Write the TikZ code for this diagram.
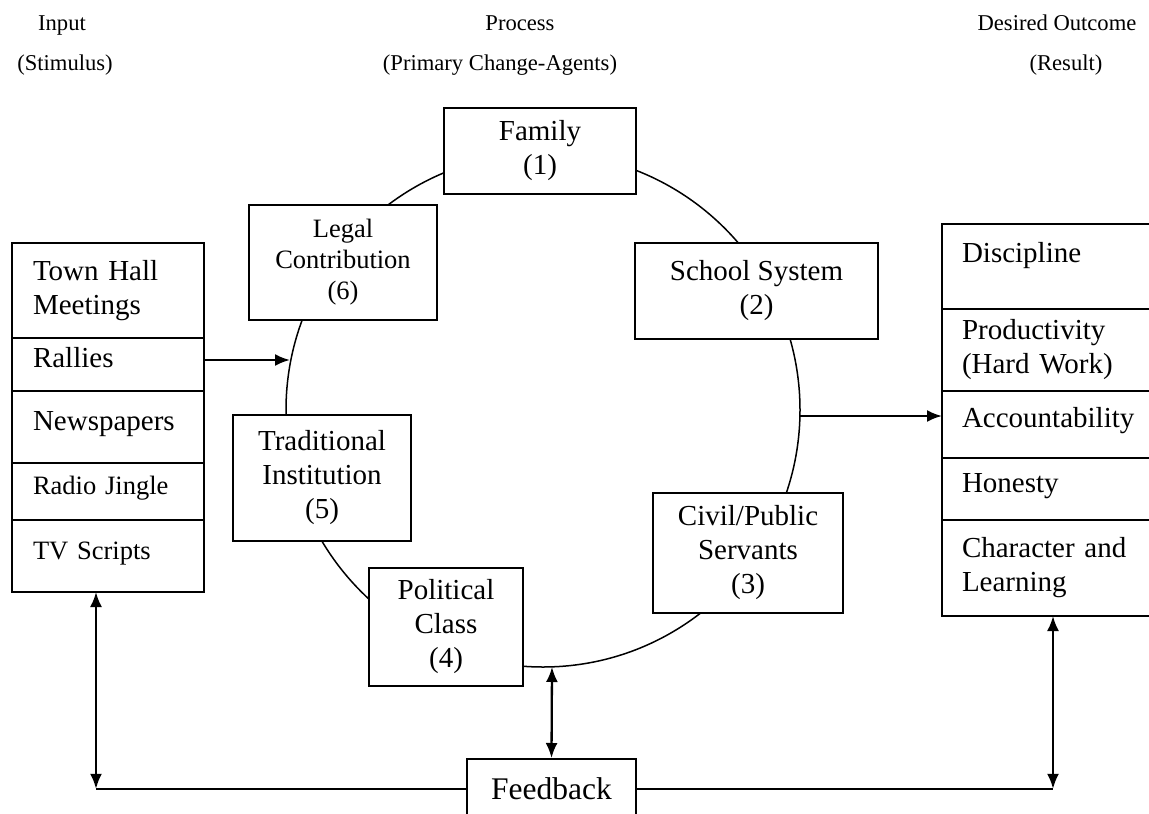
\documentclass[tikz,border=0pt]{standalone}
\usepackage{fontspec}
\setmainfont{Liberation Serif}
\usetikzlibrary{arrows.meta,positioning}

\begin{document}
\begin{tikzpicture}[x=1pt,y=-1pt,>={Latex[length=15pt,width=12pt]},
		agent/.style={draw,fill=white,line width=1.7pt,align=center,inner sep=0pt,font=\fontsize{29}{34}\selectfont},
		cell/.style={draw,line width=1.7pt,outer sep=0pt,align=left,inner xsep=21pt,inner ysep=0pt,text width=150pt,font=\fontsize{29}{34}\selectfont},
		ocell/.style={cell,inner xsep=20pt,text width=178pt},
		oneline/.style={text height=20pt,text depth=14pt},
		small/.style={font=\fontsize{26.5}{31}\selectfont},
		head/.style={anchor=base,font=\fontsize{22.6}{26}\selectfont},
		arr/.style={line width=2.3pt}]
		\useasboundingbox (0,0) rectangle (1149,814);
		\clip (0,0) rectangle (1149,814);
		%Headers
		\node [head] (hin) at (62,30) {Input};
		\node [head] (hins) at (65,70) {(Stimulus)};
		\node [head] (hpr) at (520,30) {Process};
		\node [head] (hprs) at (500,70) {(Primary Change-Agents)};
		\node [head] (hout) at (1057,30) {Desired Outcome};
		\node [head] (houts) at (1066,70) {(Result)};
		%Ciclo
		\coordinate (c) at (543,410);
		\draw [line width=1.5pt] (c) circle [radius=257pt];
		\node [agent,minimum width=192pt,minimum height=86pt] (fam) at (540,151) {Family\\(1)};
		\node [agent,minimum width=243pt,minimum height=96pt] (sch) at (756.5,291) {School System\\(2)};
		\node [agent,minimum width=190pt,minimum height=120pt] (civ) at (748,553) {Civil/Public\\Servants\\(3)};
		\node [agent,minimum width=154pt,minimum height=118pt] (pol) at (446,627) {Political\\Class\\(4)};
		\node [agent,minimum width=178pt,minimum height=126pt] (tra) at (322,478) {Traditional\\Institution\\(5)};
		\node [agent,small,minimum width=188pt,minimum height=115pt] (leg) at (343,262.5) {Legal\\Contribution\\(6)};
		%Input
		\node [cell,minimum height=95pt,anchor=north west] (in1) at (12,243) {Town Hall\\Meetings};
		\node [cell,oneline,minimum height=53pt,below=0pt of in1] (in2) {Rallies};
		\node [cell,oneline,minimum height=72pt,below=0pt of in2] (in3) {Newspapers};
		\node [cell,oneline,small,minimum height=57pt,below=0pt of in3] (in4) {Radio Jingle};
		\node [cell,oneline,small,minimum height=72pt,below=0pt of in4] (in5) {TV Scripts};
		%Outcome
		\node [ocell,text height=20pt,text depth=29pt,minimum height=85pt,anchor=north west] (out1) at (942,224) {Discipline};
		\node [ocell,minimum height=82pt,below=0pt of out1] (out2) {Productivity\\(Hard Work)};
		\node [ocell,oneline,minimum height=67pt,below=0pt of out2] (out3) {Accountability};
		\node [ocell,oneline,minimum height=62pt,below=0pt of out3] (out4) {Honesty};
		\node [ocell,minimum height=96pt,below=0pt of out4] (out5) {Character and\\Learning};
		%Feedback
		\node [agent,font=\fontsize{31.5}{36}\selectfont,minimum width=169pt,minimum height=60pt,anchor=north] (fb) at (551.5,758) {Feedback};
		%Frecce
		\coordinate (rin) at (290,360);
		\coordinate (rout) at (799,416);
		\coordinate (cb) at (552,667);
		\draw [arr,->] (in2.east |- rin) -- (rin);
		\draw [arr,->] (rout) -- (rout -| out3.west);
		\draw [arr,<->] (cb) -- (fb.north);
		\draw [arr,<->] ([xshift=-12pt]in5.south) -- ([xshift=-12pt]in5.south |- fb.west);
		\draw [line width=1.7pt] ([xshift=-12pt]in5.south |- fb.west) -- (fb.west);
		\draw [arr,<->] ([xshift=2pt]out5.south) -- ([xshift=2pt]out5.south |- fb.east);
		\draw [line width=1.7pt] (fb.east) -- ([xshift=2pt]out5.south |- fb.east);
\end{tikzpicture}
\end{document}
